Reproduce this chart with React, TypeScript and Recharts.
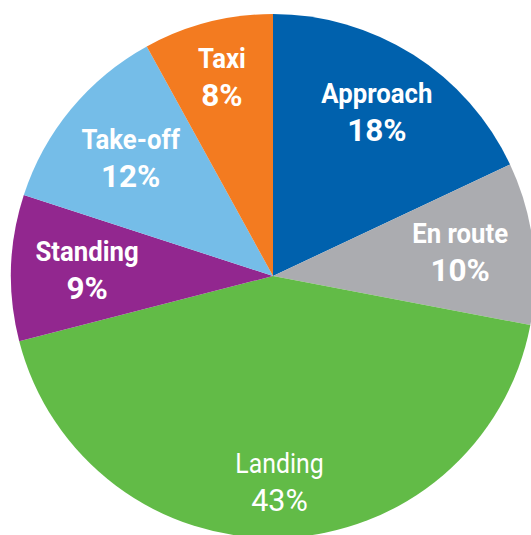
import { PieChart, Pie, Cell } from 'recharts'

const phases = ['Approach', 'En route', 'Landing', 'Standing', 'Take-off', 'Taxi']
const shares = [18, 10, 43, 9, 12, 8]
const colors = ['#0061ad', '#abacb0', '#62bb47', '#92278f', '#75bde8', '#f37b20']

const data = phases.map((name, i) => ({ name, value: shares[i] }))

// label distance from centre as a fraction of the radius, tuned per slice
const labelRadius: Record<string, number> = {
  Approach: 0.74,
  'En route': 0.72,
  Landing: 0.785,
  Standing: 0.71,
  'Take-off': 0.705,
  Taxi: 0.783,
}

const RADIAN = Math.PI / 180
const FONT = "Roboto, 'Liberation Sans', sans-serif"

function renderLabel(props: any) {
  const { cx, cy, midAngle, outerRadius, name, value } = props
  const r = outerRadius * (labelRadius[name] ?? 0.72)
  const x = cx + r * Math.cos(-midAngle * RADIAN)
  const y = cy + r * Math.sin(-midAngle * RADIAN)
  const light = name === 'Landing'
  const weight = light ? 400 : 700
  return (
    <g transform={`translate(${x},${y})`}>
      <text
        x={0}
        y={-9}
        fill="#fff"
        textAnchor="middle"
        fontSize={light ? 27 : 28}
        fontWeight={weight}
        fontFamily={FONT}
        transform="scale(0.92,1)"
      >
        {name}
      </text>
      <text
        x={0}
        y={29}
        fill="#fff"
        textAnchor="middle"
        fontSize={light ? 30.5 : 31.5}
        fontWeight={weight}
        fontFamily={FONT}
      >
        {value}%
      </text>
    </g>
  )
}

export default function App() {
  return (
    <div style={{ position: 'absolute', left: 0, top: 0, width: 531, height: 535 }}>
      <PieChart width={531} height={535}>
        <Pie
          data={data}
          dataKey="value"
          nameKey="name"
          cx={268}
          cy={271}
          outerRadius={262}
          startAngle={90}
          endAngle={-270}
          stroke="none"
          label={renderLabel}
          labelLine={false}
          isAnimationActive={false}
        >
          {data.map((d, i) => (
            <Cell key={d.name} fill={colors[i]} />
          ))}
        </Pie>
      </PieChart>
    </div>
  )
}
